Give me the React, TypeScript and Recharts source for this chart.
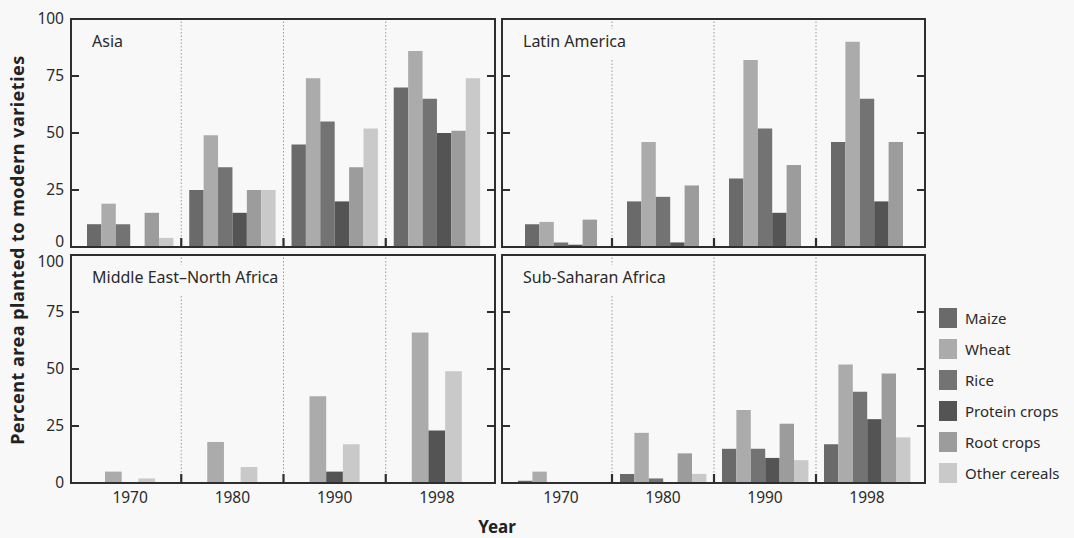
import React from 'react'
import { BarChart, Bar, XAxis, YAxis } from 'recharts'

const years = ['1970', '1980', '1990', '1998']
const crops = ['Maize', 'Wheat', 'Rice', 'Protein crops', 'Root crops', 'Other cereals']
const cropColors = ['#6a6a6a', '#ababab', '#737373', '#545454', '#9c9c9c', '#c9c9c9']
const yTicks = [0, 25, 50, 75, 100]

// Asia
const asiaMaize = [10, 25, 45, 70]
const asiaWheat = [19, 49, 74, 86]
const asiaRice = [10, 35, 55, 65]
const asiaProtein = [0, 15, 20, 50]
const asiaRoot = [15, 25, 35, 51]
const asiaOther = [4, 25, 52, 74]

// Latin America (no other cereals)
const latMaize = [10, 20, 30, 46]
const latWheat = [11, 46, 82, 90]
const latRice = [2, 22, 52, 65]
const latProtein = [1, 2, 15, 20]
const latRoot = [12, 27, 36, 46]

// Middle East-North Africa
const menaWheat = [5, 18, 38, 66]
const menaProtein = [0, 0, 5, 23]
const menaOther = [2, 7, 17, 49]

// Sub-Saharan Africa
const ssaMaize = [1, 4, 15, 17]
const ssaWheat = [5, 22, 32, 52]
const ssaRice = [0, 2, 15, 40]
const ssaProtein = [0, 0, 11, 28]
const ssaRoot = [0, 13, 26, 48]
const ssaOther = [0, 4, 10, 20]

const FONT = "'Noto Sans', sans-serif"
const BG = '#f8f8f8'
const INK = '#2e2e2e'

const COL_X = [71, 502]
const PW = [424, 423]
const ROW_Y = [19, 255]
const PH = 228
const CHART_L = [0, 498]
const CHART_W = [498, 430]
const CHART_T = [0, 251]
const CHART_H = [251, 287]
const PAD = { left: 8, right: 7 }

function buildRows(series: Record<string, number[]>) {
  return years.map((y, i) => {
    const row: Record<string, any> = { year: y }
    Object.keys(series).forEach(k => { row[k] = series[k][i] })
    return row
  })
}

const panels = [
  {
    title: 'Asia', col: 0, row: 0, barSize: 14.4,
    series: {
      Maize: asiaMaize, Wheat: asiaWheat, Rice: asiaRice,
      'Protein crops': asiaProtein, 'Root crops': asiaRoot, 'Other cereals': asiaOther,
    },
  },
  {
    title: 'Latin America', col: 1, row: 0, barSize: 14.4,
    series: {
      Maize: latMaize, Wheat: latWheat, Rice: latRice,
      'Protein crops': latProtein, 'Root crops': latRoot,
    },
  },
  {
    title: 'Middle East\u2013North Africa', col: 0, row: 1, barSize: 16.7,
    series: { Wheat: menaWheat, 'Protein crops': menaProtein, 'Other cereals': menaOther },
  },
  {
    title: 'Sub-Saharan Africa', col: 1, row: 1, barSize: 14.4,
    series: {
      Maize: ssaMaize, Wheat: ssaWheat, Rice: ssaRice,
      'Protein crops': ssaProtein, 'Root crops': ssaRoot, 'Other cereals': ssaOther,
    },
  },
]

function Panel({ p }: { p: typeof panels[number] }) {
  const { col, row } = p
  const rows = buildRows(p.series as Record<string, number[]>)
  const band = (PW[col] - PAD.left - PAD.right) / years.length
  const leftW = COL_X[col] - CHART_L[col]
  const rightM = CHART_L[col] + CHART_W[col] - (COL_X[col] + PW[col])
  const topM = ROW_Y[row] - CHART_T[row]
  const bottomH = CHART_T[row] + CHART_H[row] - (ROW_Y[row] + PH)
  const showYLabels = col === 0
  const showXLabels = row === 1

  const yearTick = (props: any) => {
    const { x, y, payload, index } = props
    const bx = x - band / 2
    return (
      <g>
        {index > 0 && (
          <>
            <line x1={bx} x2={bx} y1={y} y2={y - PH} stroke="#9a9a9a" strokeWidth={1} strokeDasharray="1.5 2" />
            <line x1={bx} x2={bx} y1={y} y2={y - 9} stroke={INK} strokeWidth={2.2} />
          </>
        )}
        {showXLabels && (
          <text x={x} y={y + 15} dy="0.35em" textAnchor="middle" fontSize={15.5} fontFamily={FONT} fill="#2a2a2a">
            {payload.value}
          </text>
        )}
      </g>
    )
  }

  // inward ticks on both frame sides, labels only for the left column
  const valueTick = (props: any) => {
    const { x, y, payload } = props
    const v = payload.value
    const xr = x + PW[col]
    let dy = 0
    if (row === 0 && v === 0) dy = -5
    if (row === 1 && v === 100) dy = 7
    return (
      <g>
        {v > 0 && v < 100 && (
          <>
            <line x1={x} x2={x + 8} y1={y} y2={y} stroke={INK} strokeWidth={2} />
            <line x1={xr} x2={xr - 8} y1={y} y2={y} stroke={INK} strokeWidth={2} />
          </>
        )}
        {showYLabels && (
          <text x={x - 7} y={y + dy} dy="0.35em" textAnchor="end" fontSize={15.5} fontFamily={FONT} fill="#2a2a2a">
            {v}
          </text>
        )}
      </g>
    )
  }

  return (
    <>
      <div style={{ position: 'absolute', left: CHART_L[col], top: CHART_T[row] }}>
        <BarChart
          width={CHART_W[col]} height={CHART_H[row]} data={rows}
          margin={{ left: 0, right: rightM, top: topM, bottom: 0 }} barGap={0}
        >
          <XAxis
            dataKey="year" type="category" height={bottomH} axisLine={false} tickLine={false}
            tickSize={0} tickMargin={0} padding={PAD} interval={0} tick={yearTick}
          />
          <YAxis
            orientation="left" width={leftW} domain={[0, 100]} ticks={yTicks} interval={0}
            axisLine={false} tickLine={false} tickSize={0} tickMargin={0} tick={valueTick}
          />
          {Object.keys(p.series).map(k => (
            <Bar
              key={k} dataKey={k} barSize={p.barSize}
              fill={cropColors[crops.indexOf(k)]} isAnimationActive={false}
            />
          ))}
        </BarChart>
      </div>
      <div
        style={{
          position: 'absolute', left: COL_X[col] - 1, top: ROW_Y[row] - 1,
          width: PW[col] + 2, height: PH + 2, border: `2px solid ${INK}`,
          boxSizing: 'border-box', pointerEvents: 'none',
        }}
      />
      <div
        style={{
          position: 'absolute', left: COL_X[col] + 16, top: ROW_Y[row] + 10,
          padding: '0 5px 5px 5px', background: BG, fontFamily: FONT, fontSize: 16,
          lineHeight: '25px', color: '#2a2a2a', whiteSpace: 'nowrap',
        }}
      >
        {p.title}
      </div>
    </>
  )
}

export default function App() {
  return (
    <div style={{ position: 'absolute', left: 0, top: 0, width: 1074, height: 538, background: BG, overflow: 'hidden' }}>
      {panels.map(p => <Panel key={p.title} p={p} />)}
      <div
        style={{
          position: 'absolute', left: 17 - 250, top: 250 - 12, width: 500, height: 24,
          lineHeight: '24px', textAlign: 'center', transform: 'rotate(-90deg)',
          fontFamily: FONT, fontWeight: 700, fontSize: 18, letterSpacing: 0.5, color: '#222',
        }}
      >
        Percent area planted to modern varieties
      </div>
      <div
        style={{
          position: 'absolute', left: 447, top: 516, width: 100, height: 22, lineHeight: '22px',
          textAlign: 'center', fontFamily: FONT, fontWeight: 700, fontSize: 17, color: '#222',
        }}
      >
        Year
      </div>
      {crops.map((c, i) => (
        <div key={c} style={{ position: 'absolute', left: 939, top: 308 + i * 31, height: 20, display: 'flex', alignItems: 'center' }}>
          <div style={{ width: 18, height: 20, background: cropColors[i] }} />
          <span style={{ marginLeft: 8, fontFamily: FONT, fontSize: 15, color: '#2a2a2a', whiteSpace: 'nowrap' }}>{c}</span>
        </div>
      ))}
    </div>
  )
}
